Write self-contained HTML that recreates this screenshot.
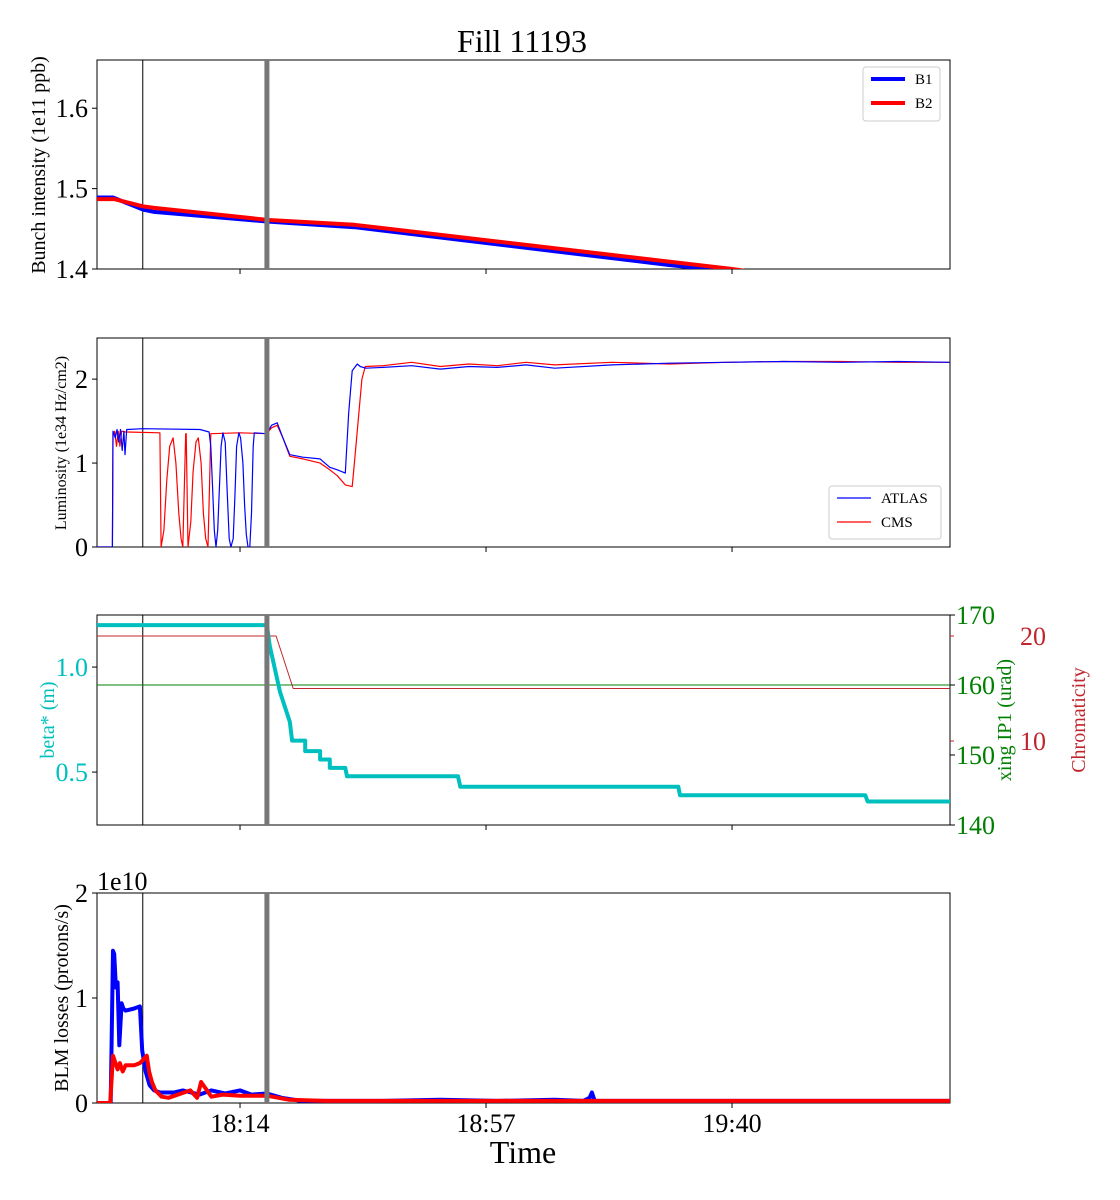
<!DOCTYPE html>
<html><head><meta charset="utf-8">
<style>
html,body{margin:0;padding:0;background:#fff;}
svg{display:block;font-family:"Liberation Serif",serif;}
</style></head>
<body>
<svg id="chart" width="1120" height="1200" viewBox="0 0 1120 1200" xmlns="http://www.w3.org/2000/svg">
<text x="522" y="52" font-size="32" text-anchor="middle">Fill 11193</text>
</svg>
<script>
// ---- data (time in minutes since 17:49) ----
const timeTickLabels = ["18:14","18:57","19:40"];
const timeTickMinutes = [25, 68, 111];
const markerBlackT = 8.0;
const markerGrayT = 29.7;

const intB1T = [0, 2.8, 8, 10, 30, 45, 100, 112];
const intB1V = [1.489, 1.489, 1.474, 1.471, 1.459, 1.452, 1.405, 1.396];
const intB2T = [0, 3, 8, 10, 30, 45, 111, 113];
const intB2V = [1.487, 1.487, 1.478, 1.476, 1.461, 1.455, 1.400, 1.398];

const atlasT = [0, 2.7, 2.8, 3.2, 3.5, 3.8, 4.1, 4.4, 4.7, 4.9, 5.2, 8, 18, 19.6, 19.9, 20.2, 20.5, 20.8, 21.1, 21.4, 21.7, 22, 22.4, 22.8, 23.1, 23.4, 23.8, 24.1, 24.4, 24.8, 25.1, 25.5, 25.8, 26.1, 26.4, 26.7, 27.0, 27.3, 27.5, 29.7, 30.5, 31.5, 32.5, 33.7, 36, 39, 40.7, 42, 43.4, 44, 44.6, 45.5, 46, 47, 50, 55, 60, 65, 70, 75, 80, 90, 100, 110, 120, 130, 140, 149.1];
const atlasV = [0, 0, 1.38, 1.3, 1.4, 1.25, 1.4, 1.15, 1.38, 1.1, 1.4, 1.41, 1.4, 1.37, 1.2, 0.7, 0.2, 0.0, 0.2, 0.7, 1.2, 1.36, 1.25, 0.6, 0.1, 0.0, 0.1, 0.6, 1.2, 1.36, 1.3, 1.0, 0.5, 0.15, 0.0, 0.0, 0.4, 1.2, 1.36, 1.35, 1.45, 1.48, 1.3, 1.1, 1.07, 1.05, 0.95, 0.92, 0.88, 1.6, 2.1, 2.18, 2.15, 2.13, 2.14, 2.16, 2.12, 2.15, 2.14, 2.17, 2.13, 2.17, 2.19, 2.2, 2.21, 2.2, 2.21, 2.2];
const cmsT = [0, 2.7, 2.8, 3.1, 3.4, 3.7, 4.0, 4.3, 5.0, 11, 11.2, 11.7, 12.2, 12.7, 13.3, 13.8, 14.3, 14.7, 15, 15.5, 15.6, 15.9, 16.4, 16.8, 17.3, 17.7, 18.2, 18.6, 19.0, 19.4, 19.9, 25, 29.7, 30.5, 31.5, 32.5, 33.7, 36, 39, 40.7, 42, 43.4, 44.6, 45, 46.3, 46.9, 50, 55, 60, 65, 70, 75, 80, 90, 100, 110, 120, 130, 140, 149.1];
const cmsV = [0, 0, 1.35, 1.38, 1.2, 1.38, 1.2, 1.38, 1.37, 1.36, 0.0, 0.2, 0.8, 1.2, 1.3, 1.0, 0.4, 0.1, 0.0, 1.35, 1.35, 0.0, 0.3, 0.9, 1.25, 1.3, 1.0, 0.4, 0.1, 0.0, 1.35, 1.36, 1.35, 1.42, 1.45, 1.3, 1.08, 1.05, 1.0, 0.92, 0.85, 0.74, 0.72, 1.0, 2.0, 2.15, 2.16, 2.2, 2.15, 2.18, 2.16, 2.2, 2.17, 2.2, 2.18, 2.2, 2.21, 2.21, 2.2, 2.2];

const betaT = [0, 29.7, 30.2, 32, 33.7, 34.1, 36.4, 36.4, 39.0, 39.0, 40.7, 40.7, 43.4, 43.7, 63.1, 63.5, 101.6, 101.9, 134.3, 134.7, 149.1];
const betaV = [1.2, 1.2, 1.1, 0.88, 0.74, 0.65, 0.65, 0.6, 0.6, 0.56, 0.56, 0.52, 0.52, 0.48, 0.48, 0.43, 0.43, 0.39, 0.39, 0.36, 0.36];
const xingT = [0, 149.1];
const xingV = [160, 160];
const chromaT = [0, 29.5, 29.6, 29.7, 31.3, 34.3, 149.1];
const chromaV = [20, 20, 15, 20, 20, 15, 15];

const blmB1T = [0, 2.4, 2.8, 3.0, 3.3, 3.6, 3.9, 4.3, 4.6, 5.0, 6.5, 7.5, 7.9, 8.5, 9.2, 10, 11, 13.5, 15, 17.9, 20, 22.4, 25, 27, 29.7, 32.3, 35.7, 40, 50, 60, 70, 80, 85, 86.1, 86.5, 87, 90, 100, 110, 120, 130, 140, 149.1];
const blmB1V = [0, 0, 1.45, 1.42, 1.1, 1.15, 0.55, 0.95, 0.9, 0.88, 0.9, 0.92, 0.5, 0.3, 0.17, 0.12, 0.1, 0.1, 0.12, 0.08, 0.12, 0.09, 0.12, 0.08, 0.09, 0.05, 0.02, 0.02, 0.02, 0.03, 0.02, 0.03, 0.02, 0.05, 0.1, 0.02, 0.02, 0.02, 0.02, 0.02, 0.02, 0.02, 0.02];
const blmB2T = [0, 2.3, 2.8, 3.6, 4.0, 4.5, 5.0, 6.5, 7.5, 8.7, 9.1, 9.6, 10.2, 11.3, 12.5, 16.3, 17.5, 18.2, 20, 22, 25, 29.7, 33.6, 40, 50, 60, 70, 80, 90, 100, 110, 120, 130, 140, 149.1];
const blmB2V = [0, 0, 0.45, 0.32, 0.38, 0.3, 0.36, 0.36, 0.38, 0.45, 0.3, 0.2, 0.12, 0.06, 0.05, 0.12, 0.05, 0.2, 0.06, 0.08, 0.07, 0.07, 0.03, 0.02, 0.02, 0.02, 0.02, 0.02, 0.02, 0.02, 0.02, 0.02, 0.02, 0.02, 0.02];

// ---- layout ----
const svg = document.getElementById('chart');
const NS = 'http://www.w3.org/2000/svg';
const X0 = 97, X1 = 950, TMAX = 149.1;
function xs(t){ return X0 + (t / TMAX) * (X1 - X0); }
function mk(tag, attrs, parent){
  const e = document.createElementNS(NS, tag);
  for (const k in attrs) e.setAttribute(k, attrs[k]);
  (parent || svg).appendChild(e);
  return e;
}
function yScale(top, bottom, lo, hi){ return v => bottom - (v - lo) / (hi - lo) * (bottom - top); }
function drawLine(T, V, ys, color, w, name, top, bottom){
  const pts = T.map((t,i) => xs(t).toFixed(1) + ',' + ys(V[i]).toFixed(1)).join(' ');
  const p = mk('polyline', {points: pts, fill: 'none', stroke: color, 'stroke-width': w, 'stroke-linejoin': 'round', 'clip-path': 'url(#clip-' + top + ')'});
  
  
}
function panel(top, bottom, name){
  const cp = mk('clipPath', {id: 'clip-' + top});
  mk('rect', {x: X0, y: top, width: X1 - X0, height: bottom - top}, cp);
  const r = mk('rect', {x: X0, y: top, width: X1 - X0, height: bottom - top, fill: 'none', stroke: '#000', 'stroke-width': 1});
  
  
  timeTickMinutes.forEach(t => mk('line', {x1: xs(t), x2: xs(t), y1: bottom, y2: bottom + 5, stroke: '#000'}));
  const bl = mk('line', {x1: xs(markerBlackT), x2: xs(markerBlackT), y1: top, y2: bottom, stroke: '#000', 'stroke-width': 1});
  
  
}
function grayMarker(top, bottom){
  const g = mk('line', {x1: xs(markerGrayT), x2: xs(markerGrayT), y1: top, y2: bottom, stroke: '#777', 'stroke-width': 5});
  
  
}
function ytick(ys, v, label, x, color, size){
  const y = ys(v);
  mk('line', {x1: X0 - 5, x2: X0, y1: y, y2: y, stroke: '#000'});
  const t = mk('text', {x: x, y: y + 9, 'font-size': size, 'text-anchor': 'end', fill: color || '#000'});
  t.textContent = label;
  
  
}
function ylabel(x, y, text, size, color, name){
  const t = mk('text', {x: x, y: y, 'font-size': size, 'text-anchor': 'middle', fill: color, transform: 'rotate(-90 ' + x + ' ' + y + ')'});
  t.textContent = text;
  
  
}
function legend(x, y, w, h, entries, lw, name){
  const g = mk('g', {});
  
  
  mk('rect', {x: x, y: y, width: w, height: h, rx: 3, fill: '#fff', stroke: '#ccc'}, g);
  entries.forEach((e, i) => {
    const yy = y + 12 + i * 24;
    mk('line', {x1: x + 8, x2: x + 42, y1: yy, y2: yy, stroke: e[1], 'stroke-width': lw}, g);
    const t = mk('text', {x: x + 52, y: yy + 5, 'font-size': 15}, g);
    t.textContent = e[0];
    
    
  });
}

// Panel 1: bunch intensity
(function(){
  const top = 60, bottom = 269;
  const ys = yScale(top, bottom, 1.4, 1.66);
  panel(top, bottom, 'intensity-panel');
  drawLine(intB1T, intB1V, ys, '#0000ff', 4, 'line-b1-intensity', top, bottom);
  drawLine(intB2T, intB2V, ys, '#ff0000', 4, 'line-b2-intensity', top, bottom);
  grayMarker(top, bottom);
  [[1.4,'1.4'],[1.5,'1.5'],[1.6,'1.6']].forEach(a => ytick(ys, a[0], a[1], 88, '#000', 26));
  ylabel(45, 165, 'Bunch intensity (1e11 ppb)', 20, '#000', 'y-axis-title-intensity');
  legend(863, 67, 77, 54, [['B1','#0000ff'],['B2','#ff0000']], 4, 'legend-intensity');
})();

// Panel 2: luminosity
(function(){
  const top = 338, bottom = 547;
  const ys = yScale(top, bottom, 0, 2.49);
  panel(top, bottom, 'luminosity-panel');
  drawLine(cmsT, cmsV, ys, '#ff0000', 1.2, 'line-cms', top, bottom);
  drawLine(atlasT, atlasV, ys, '#0000ff', 1.2, 'line-atlas', top, bottom);
  grayMarker(top, bottom);
  [[0,'0'],[1,'1'],[2,'2']].forEach(a => ytick(ys, a[0], a[1], 88, '#000', 26));
  ylabel(66, 443, 'Luminosity (1e34 Hz/cm2)', 16, '#000', 'y-axis-title-luminosity');
  legend(829, 486, 112, 53, [['ATLAS','#0000ff'],['CMS','#ff0000']], 1.2, 'legend-luminosity');
})();

// Panel 3: beta*, xing, chromaticity
(function(){
  const top = 615, bottom = 825;
  const ys = yScale(top, bottom, 0.248, 1.248);
  const yg = yScale(top, bottom, 140, 170);
  const yc = yScale(top, bottom, 0, 20);
  const yc2 = v => 636 + (20 - v) * 10.5;
  panel(top, bottom, 'optics-panel');
  drawLine(xingT, xingV, yg, '#008000', 1, 'line-xing-ip1', top, bottom);
  drawLine(chromaT, chromaV, yc2, '#c0262d', 1, 'line-chromaticity', top, bottom);
  drawLine(betaT, betaV, ys, '#00bfbf', 4, 'line-beta-star', top, bottom);
  grayMarker(top, bottom);
  [[0.5,'0.5'],[1.0,'1.0']].forEach(a => ytick(ys, a[0], a[1], 88, '#00bfbf', 26));
  [[140,'140'],[150,'150'],[160,'160'],[170,'170']].forEach(a => {
    const y = yg(a[0]);
    mk('line', {x1: X1, x2: X1 + 5, y1: y, y2: y, stroke: '#000'});
    const t = mk('text', {x: 956, y: y + 9, 'font-size': 26, fill: '#008000'});
    t.textContent = a[1];
    
    
  });
  [[10,'10'],[20,'20']].forEach(a => {
    const y = yc2(a[0]);
    mk('line', {x1: X1, x2: X1 + 4, y1: y, y2: y, stroke: '#c0262d'});
    const t = mk('text', {x: 1020, y: y + 9, 'font-size': 26, fill: '#c0262d'});
    t.textContent = a[1];
    
    
  });
  ylabel(54, 720, 'beta* (m)', 20, '#00bfbf', 'y-axis-title-beta');
  ylabel(1011, 720, 'xing IP1 (urad)', 20, '#008000', 'y-axis-title-xing');
  ylabel(1085, 720, 'Chromaticity', 20, '#c0262d', 'y-axis-title-chromaticity');
})();

// Panel 4: BLM losses
(function(){
  const top = 893, bottom = 1103;
  const ys = yScale(top, bottom, 0, 2);
  panel(top, bottom, 'blm-panel');
  drawLine(blmB1T, blmB1V, ys, '#0000ff', 4, 'line-blm-b1', top, bottom);
  drawLine(blmB2T, blmB2V, ys, '#ff0000', 4, 'line-blm-b2', top, bottom);
  grayMarker(top, bottom);
  [[0,'0'],[1,'1'],[2,'2']].forEach(a => ytick(ys, a[0], a[1], 88, '#000', 26));
  const ex = mk('text', {x: 97, y: 890, 'font-size': 26});
  ex.textContent = '1e10';
  
  
  ylabel(68, 998, 'BLM losses (protons/s)', 20, '#000', 'y-axis-title-blm');
  timeTickMinutes.forEach((m, i) => {
    const t = mk('text', {x: xs(m), y: 1132, 'font-size': 26, 'text-anchor': 'middle'});
    t.textContent = timeTickLabels[i];
    
    
  });
  const xl = mk('text', {x: 523, y: 1163, 'font-size': 32, 'text-anchor': 'middle'});
  xl.textContent = 'Time';
  
  
})();
</script>
</body></html>
